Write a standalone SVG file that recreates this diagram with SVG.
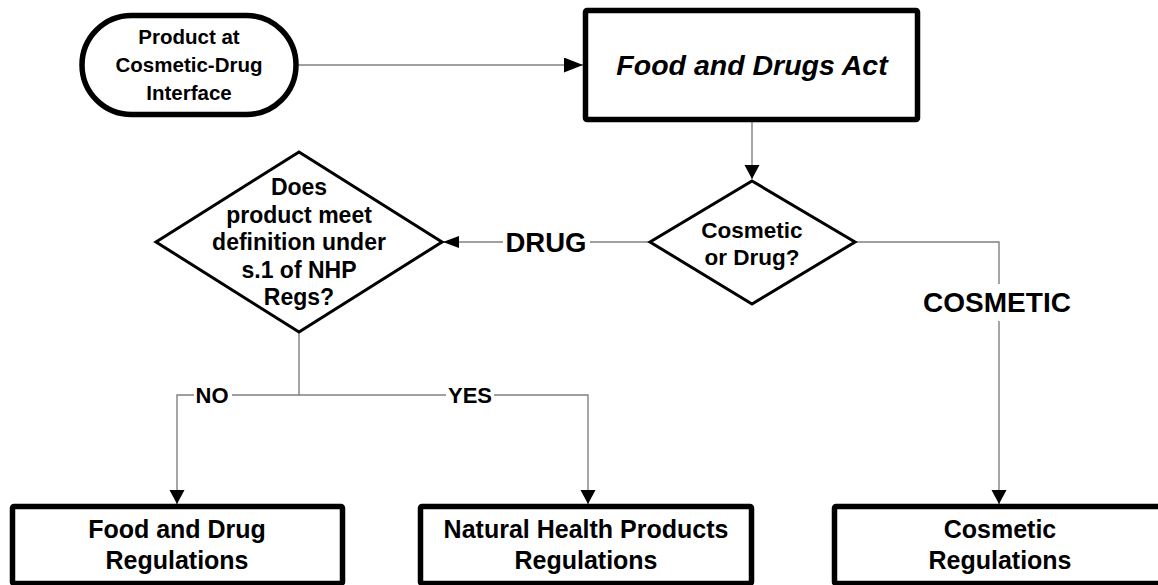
<svg xmlns="http://www.w3.org/2000/svg" width="1158" height="585" viewBox="0 0 1158 585">
  <style>
    .node { fill: #ffffff; stroke: #000000; stroke-linejoin: round; }
    .box { stroke-width: 5.5; }
    .dia { stroke-width: 3; stroke-linejoin: miter; }
    .t { font-family: "Liberation Sans", Arial, sans-serif; font-weight: bold; fill: #000000; text-anchor: middle; }
    .conn { fill: none; stroke: #808080; stroke-width: 1.4; }
    .lbl { font-family: "Liberation Sans", Arial, sans-serif; font-weight: bold; fill: #000000; text-anchor: middle; }
  </style>
  <defs>
    <marker id="arr" markerUnits="userSpaceOnUse" markerWidth="16" markerHeight="16" refX="14" refY="7.5" orient="auto">
      <path d="M0,0 L14,7.5 L0,15 Z" fill="#000000"/>
    </marker>
    <marker id="arrH" markerUnits="userSpaceOnUse" markerWidth="20" markerHeight="16" refX="19" refY="7.5" orient="auto">
      <path d="M0,0 L19,7.5 L0,15 Z" fill="#000000"/>
    </marker>
    <marker id="arrS" markerUnits="userSpaceOnUse" markerWidth="18" markerHeight="14" refX="16" refY="6" orient="auto">
      <path d="M0,0 L16,6 L0,12 Z" fill="#000000"/>
    </marker>
  </defs>

  <g id="connectors">
    <path class="conn" d="M297,65 H583" marker-end="url(#arrH)"/>
    <path class="conn" d="M752,122 V179" marker-end="url(#arr)"/>
    <path class="conn" d="M649,242 H590"/>
    <path class="conn" d="M503,242 H443" marker-end="url(#arrS)"/>
    <text class="lbl" x="546" y="252" font-size="27.5">DRUG</text>
    <path class="conn" d="M856,242 H999 V284"/>
    <path class="conn" d="M999,321 V504" marker-end="url(#arr)"/>
    <text class="lbl" x="997" y="312" font-size="28">COSMETIC</text>
    <path class="conn" d="M299,333 V395 H232"/>
    <path class="conn" d="M194,395 H177 V504" marker-end="url(#arr)"/>
    <text class="lbl" x="212" y="403" font-size="22">NO</text>
    <path class="conn" d="M299,395 H446"/>
    <path class="conn" d="M494,395 H588 V504" marker-end="url(#arr)"/>
    <text class="lbl" x="470" y="403" font-size="22">YES</text>
  </g>

  <g id="start">
    <rect class="node box" x="82" y="15.5" width="214" height="99" rx="49.5" ry="49.5"/>
    <text class="t" font-size="20.5" x="189" y="44">Product at</text>
    <text class="t" font-size="20.5" x="189" y="72">Cosmetic-Drug</text>
    <text class="t" font-size="20.5" x="189" y="100">Interface</text>
  </g>

  <g id="fda">
    <rect class="node box" x="585.5" y="10.5" width="332" height="109" rx="1.5"/>
    <text class="t" font-size="28.5" font-style="italic" x="752" y="75">Food and Drugs Act</text>
  </g>

  <g id="cosmetic-or-drug">
    <polygon class="node dia" points="752,181 855,242 752,304 650,242"/>
    <text class="t" font-size="22.5" x="752" y="238">Cosmetic</text>
    <text class="t" font-size="22.5" x="752" y="265">or Drug?</text>
  </g>

  <g id="nhp-question">
    <polygon class="node dia" points="299,152 442,242 299,332 156,242"/>
    <text class="t" font-size="23" x="299" y="195">Does</text>
    <text class="t" font-size="23" x="299" y="223">product meet</text>
    <text class="t" font-size="23" x="299" y="250">definition under</text>
    <text class="t" font-size="23" x="299" y="278">s.1 of NHP</text>
    <text class="t" font-size="23" x="299" y="305">Regs?</text>
  </g>

  <g id="fdr">
    <rect class="node box" x="12.5" y="506.5" width="330" height="77" rx="1.5"/>
    <text class="t" font-size="25" x="177" y="538">Food and Drug</text>
    <text class="t" font-size="25" x="177" y="569">Regulations</text>
  </g>

  <g id="nhpr">
    <rect class="node box" x="420.5" y="506.5" width="331" height="77" rx="1.5"/>
    <text class="t" font-size="25" x="586" y="538">Natural Health Products</text>
    <text class="t" font-size="25" x="586" y="569">Regulations</text>
  </g>

  <g id="cosr">
    <rect class="node box" x="834.5" y="506.5" width="340" height="77" rx="1.5"/>
    <text class="t" font-size="25" x="1000" y="538">Cosmetic</text>
    <text class="t" font-size="25" x="1000" y="569">Regulations</text>
  </g>
</svg>
